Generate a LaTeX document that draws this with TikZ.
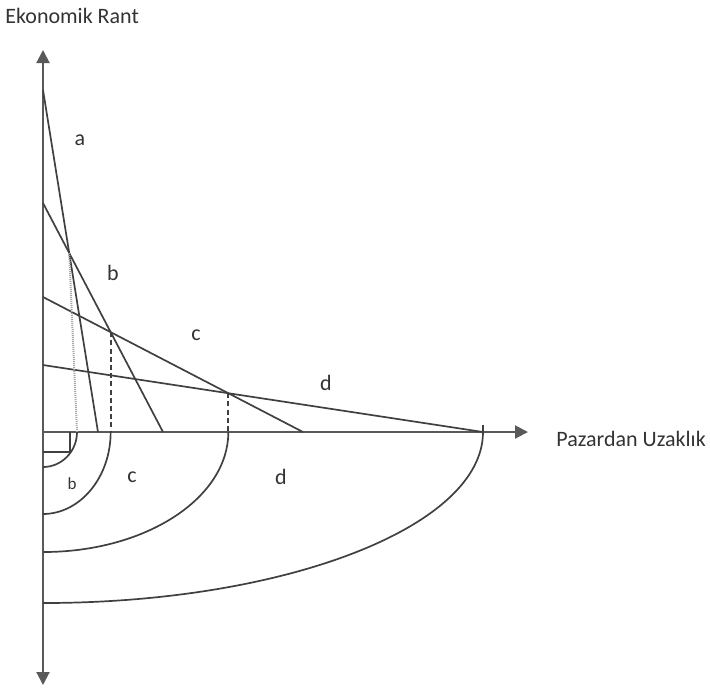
\documentclass[tikz,border=0pt]{standalone}
\usepackage{fontspec}
\setmainfont{Carlito}
\usetikzlibrary{arrows.meta, intersections}

\begin{document}
\begin{tikzpicture}[x=0.5pt, y=-0.5pt,
    axis/.style={
        -{Triangle[length=6.5pt, width=6.5pt]},
        line width=1pt, black!65
    },
    rent/.style={line width=0.85pt, black!75},
    ring/.style={line width=0.85pt, black!75},
    drop/.style={line width=1pt, black!75, dash pattern=on 2.5pt off 1.6pt},
    dotdrop/.style={line width=1pt, black!35, dash pattern=on 0.5pt off 0.5pt},
    lbl/.style={font=\fontsize{11}{13}\selectfont, text=black!80, inner sep=0pt},
    small/.style={font=\fontsize{8.5}{10}\selectfont, text=black!80, inner sep=0pt}
]
\useasboundingbox (0,0) rectangle (710,687);

\coordinate (O) at (43,432);

% axes
\draw[axis] (O) -- (43,50);
\draw[axis] (O) -- (43,685);
\draw[axis] (O) -- (528,432);

% rent lines
\draw[rent, name path=la] (43,90)  -- (98,432);
\draw[rent, name path=lb] (43,203) -- (163,432);
\draw[rent, name path=lc] (43,297) -- (303,432);
\draw[rent, name path=ld] (43,365) -- (483,432);

\path[name intersections={of=la and lb, by=ab}];
\path[name intersections={of=lb and lc, by=bc}];
\path[name intersections={of=lc and ld, by=cd}];

\coordinate (ab0) at (77,432);
\coordinate (bc0) at (bc |- O);
\coordinate (cd0) at (cd |- O);

\draw[dotdrop] (ab) -- (ab0);
\draw[drop] (bc) -- (bc0);
\draw[drop] (cd) -- (cd0);

% rings below the axis
\draw[ring] (ab0) arc[start angle=0, end angle=90, x radius=34, y radius=35];
\draw[ring] (bc0) arc[start angle=0, end angle=90, x radius=68, y radius=82];
\draw[ring] (cd0) arc[start angle=0, end angle=90, x radius=185, y radius=120];
\draw[ring] (483,425) -- (483,432) arc[start angle=0, end angle=90, x radius=440, y radius=171];

\draw[ring] (70,432) -- (70,452) -- (43,452);

\node[lbl] (ta) at (80,140) {a};
\node[lbl] (tb) at (113,273) {b};
\node[lbl] (tc) at (196,335) {c};
\node[lbl] (td) at (326,383) {d};

\node[small] (sb) at (72,484) {b};
\node[lbl] (sc) at (132,477) {c};
\node[lbl] (sd) at (281,477) {d};

\node[lbl, anchor=west] (yl) at (5,16) {Ekonomik Rant};
\node[lbl, anchor=west] (xl) at (556,439) {Pazardan Uzaklık};

\end{tikzpicture}
\end{document}
